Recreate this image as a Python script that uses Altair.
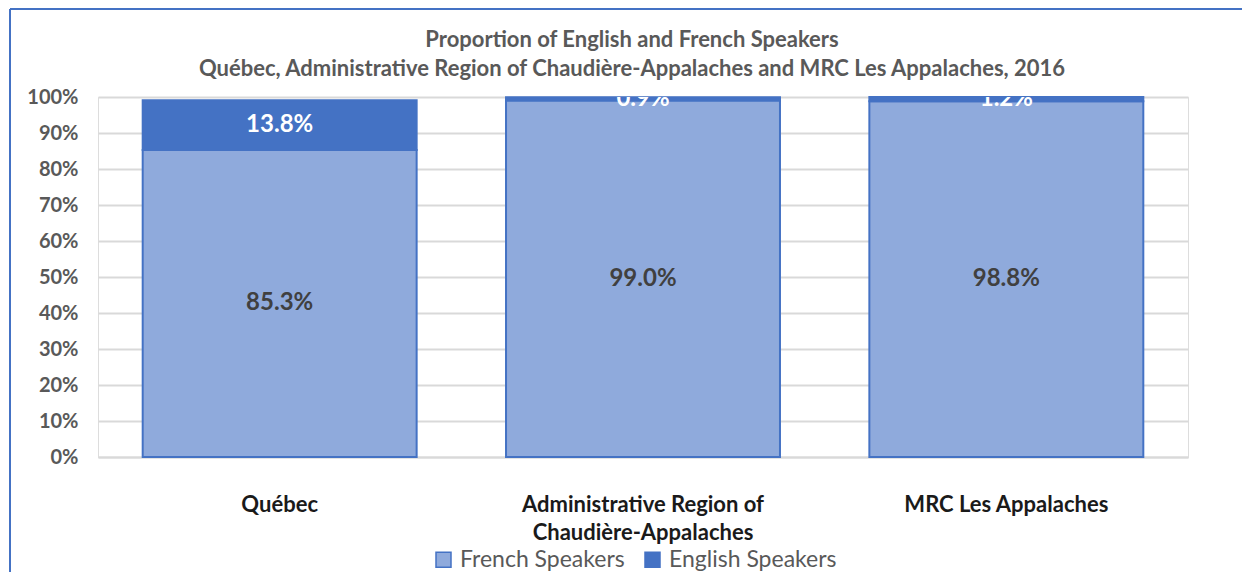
import altair as alt
import pandas as pd

categories = ["Québec", "Administrative Region of\nChaudière-Appalaches", "MRC Les Appalaches"]
french = [85.3, 99.0, 98.8]
english = [13.8, 0.9, 1.2]
series = ["French Speakers", "English Speakers"]
bar_colors = ["#8FAADC", "#4472C4"]
label_colors = ["#404040", "#FFFFFF"]
title_line1 = "Proportion of English and  French Speakers"
title_line2 = "Québec, Administrative Region of Chaudière-Appalaches and MRC Les Appalaches, 2016"
y_ticks = [0, 0.1, 0.2, 0.3, 0.4, 0.5, 0.6, 0.7, 0.8, 0.9, 1.0]

FONT = "Lato"

rows = []
for c, f, e in zip(categories, french, english):
    rows.append({"cat": c, "series": series[0], "y0": 0.0, "y1": f / 100,
                 "mid": f / 200, "label": f"{f:.1f}%", "lc": label_colors[0]})
    rows.append({"cat": c, "series": series[1], "y0": f / 100, "y1": (f + e) / 100,
                 "mid": (f + e / 2) / 100, "label": f"{e:.1f}%", "lc": label_colors[1]})
df = pd.DataFrame(rows)

x_scale = alt.Scale(domain=categories, paddingInner=0.246, paddingOuter=0.123)
y_scale = alt.Scale(domain=[0, 1])

x_axis = alt.Axis(
    title=None, labelExpr="split(datum.label, '\\n')", labelAngle=0,
    labelFont=FONT, labelFontSize=22, labelFontWeight="bold", labelColor="#1a1a1a",
    labelPadding=47, labelLineHeight=28, labelBaseline="middle", labelLimit=0,
    ticks=False, domainColor="#d9d9d9", domainWidth=2, grid=False,
)
y_axis = alt.Axis(
    title=None, format=".0%", values=y_ticks, labelFont=FONT, labelFontSize=20,
    labelFontWeight="bold", labelColor="#595959", labelPadding=20,
    labelOverlap=False, ticks=False, domain=False, gridColor="#d9d9d9", gridWidth=2,
)

base = alt.Chart(df)

bars = base.mark_bar(stroke="#4472C4", strokeWidth=2).encode(
    x=alt.X("cat:N", sort=categories, scale=x_scale, axis=x_axis),
    y=alt.Y("y0:Q", scale=y_scale, axis=y_axis),
    y2="y1:Q",
    color=alt.Color(
        "series:N", scale=alt.Scale(domain=series, range=bar_colors),
        legend=alt.Legend(
            title=None, orient="none", legendX=334, legendY=451, direction="horizontal",
            symbolType="square", symbolSize=225, symbolStrokeColor="#4472C4",
            symbolStrokeWidth=1.5, labelFont=FONT, labelFontSize=23,
            labelColor="#595959", columnPadding=16, labelOffset=5, labelLimit=0,
        ),
    ),
)

labels = base.mark_text(font=FONT, fontSize=24, fontWeight="bold", clip=True).encode(
    x=alt.X("cat:N", sort=categories, scale=x_scale, axis=x_axis),
    y=alt.Y("mid:Q", scale=y_scale, axis=y_axis),
    text="label:N",
    color=alt.Color("lc:N", scale=None),
)

one = pd.DataFrame({"k": [0]})
title_style = dict(font=FONT, fontSize=22, fontWeight="bold", color="#595959",
                   baseline="middle", align="center")
title1 = alt.Chart(one).mark_text(text=title_line1, **title_style).encode(
    x=alt.value(534), y=alt.value(-57)
)
title2 = alt.Chart(one).mark_text(text=title_line2, **title_style).encode(
    x=alt.value(534), y=alt.value(-28)
)

frame_top = alt.Chart(one).mark_rule(color="#4472C4", strokeWidth=2).encode(
    x=alt.value(-88), x2=alt.value(1150), y=alt.value(-88)
)
frame_left = alt.Chart(one).mark_rule(color="#4472C4", strokeWidth=2).encode(
    x=alt.value(-88), y=alt.value(-88), y2=alt.value(480)
)

chart = alt.layer(bars, labels, title1, title2, frame_top, frame_left).properties(
    width=1090, height=360,
    padding={"left": 90, "top": 89, "right": 54, "bottom": 115},
    autosize="none",
).configure_view(stroke="#d9d9d9", strokeWidth=2).configure(background="white")

chart.save("out.html", embed_options={"renderer": "svg", "actions": False})
